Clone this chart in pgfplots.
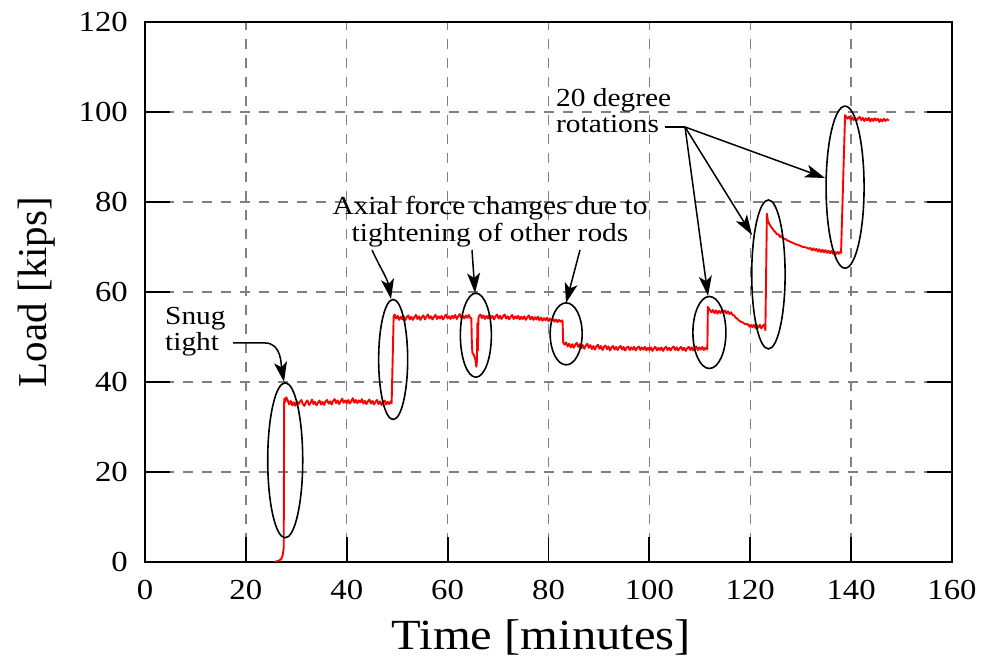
\documentclass[border=0pt]{standalone}
\usepackage{fontspec}
\setmainfont{Liberation Serif}[FakeStretch=1.13]
\newfontfamily\plainserif{Liberation Serif}
\usepackage{pgfplots}
\pgfplotsset{compat=1.18}
\usetikzlibrary{arrows.meta}

\pgfplotstableread{
x y
25.7 0
26.5 0.3
27.0 0.6
27.3 1.5
27.5 3.0
27.6 36.3
27.8 35.6
28.0 36.6
28.3 35.9
28.6 35.0
28.9 35.8
29.2 34.8
29.5 35.5
29.8 34.7
30.1 35.7
30.4 35.0
30.7 35.6
31.0 36.0
31.3 35.1
31.6 34.7
31.9 35.5
32.2 35.9
32.5 34.9
32.8 35.3
33.1 36.1
33.4 35.1
33.7 35.6
34.0 34.8
34.3 35.4
34.6 35.9
34.9 35.0
35.2 35.6
35.5 34.9
35.8 35.7
36.1 36.0
36.4 35.2
36.7 35.7
37.0 35.0
37.3 35.8
37.6 36.2
37.9 35.3
38.2 35.9
38.5 35.1
38.8 35.7
39.1 36.3
39.4 35.4
39.7 35.9
40.0 35.3
40.3 36.0
40.6 35.2
40.9 35.8
41.2 36.4
41.5 35.4
41.8 36.0
42.1 35.3
42.4 35.9
42.7 35.5
43.0 36.2
43.3 35.2
43.6 35.8
43.9 35.1
44.2 35.7
44.5 36.1
44.8 35.2
45.1 35.8
45.4 35.0
45.7 35.6
46.0 36.0
46.3 35.1
46.6 35.7
46.9 34.9
47.2 35.5
47.5 35.9
47.8 35.0
48.1 35.6
48.4 35.1
48.7 35.7
48.9 35.3
49.3 54.6
49.5 55.0
49.8 54.1
50.1 54.7
50.4 53.8
50.7 54.5
51.0 53.9
51.3 54.6
51.6 53.7
51.9 54.4
52.2 54.8
52.5 53.9
52.8 54.5
53.1 53.8
53.4 54.4
53.7 54.9
54.0 54.0
54.3 54.6
54.6 53.8
54.9 54.4
55.2 54.8
55.5 53.9
55.8 54.5
56.1 55.0
56.4 54.1
56.7 54.6
57.0 53.9
57.3 54.5
57.6 54.9
57.9 54.0
58.2 54.6
58.5 54.1
58.8 54.7
59.1 53.9
59.4 54.5
59.7 55.0
60.0 54.1
60.3 54.6
60.6 54.0
60.9 54.7
61.2 54.2
61.5 54.9
61.8 54.0
62.1 54.6
62.4 55.1
62.7 54.2
63.0 54.7
63.3 54.1
63.6 54.8
63.9 54.3
64.2 54.9
64.5 54.2
64.7 54.2
64.8 49.0
64.9 46.5
65.2 46.0
65.5 45.0
65.7 43.4
65.8 44.5
65.9 53.0
66.0 47.0
66.1 54.0
66.2 54.6
66.5 55.0
66.8 54.2
67.1 54.8
67.4 54.0
67.7 54.7
68.0 54.1
68.3 54.9
68.6 54.2
68.9 54.7
69.2 53.9
69.5 54.6
69.8 55.0
70.1 54.1
70.4 54.7
70.7 54.0
71.0 54.6
71.3 55.0
71.6 54.1
71.9 54.6
72.2 53.9
72.5 54.5
72.8 54.9
73.1 54.0
73.4 54.6
73.7 54.1
74.0 54.7
74.3 53.9
74.6 54.5
74.9 54.0
75.2 54.6
75.5 53.8
75.8 54.4
76.1 54.8
76.4 53.9
76.7 54.5
77.0 53.8
77.3 54.4
77.6 53.9
77.9 54.5
78.2 53.7
78.5 54.3
78.8 53.6
79.1 54.2
79.4 53.7
79.7 54.3
80.0 53.5
80.3 54.1
80.6 53.6
80.9 54.0
81.2 53.4
81.5 53.9
81.8 53.3
82.1 53.8
82.4 53.4
82.7 53.7
82.8 53.4
82.9 48.8
83.2 48.3
83.5 48.8
83.8 47.9
84.1 48.5
84.4 47.7
84.7 48.4
85.0 47.6
85.3 48.3
85.6 48.7
85.9 47.8
86.2 48.4
86.5 47.5
86.8 48.2
87.1 47.4
87.4 48.1
87.7 48.5
88.0 47.6
88.3 48.2
88.6 47.3
88.9 48.0
89.2 47.2
89.5 47.9
89.8 48.3
90.1 47.4
90.4 48.0
90.7 47.1
91.0 47.8
91.3 48.1
91.6 47.3
91.9 47.9
92.2 47.0
92.5 47.7
92.8 48.0
93.1 47.2
93.4 47.8
93.7 47.1
94.0 47.7
94.3 48.0
94.6 47.2
94.9 47.8
95.2 47.0
95.5 47.6
95.8 47.9
96.1 47.1
96.4 47.7
96.7 47.2
97.0 47.8
97.3 47.0
97.6 47.6
97.9 47.9
98.2 47.1
98.5 47.7
98.8 47.2
99.1 47.8
99.4 47.0
99.7 47.6
100.0 47.1
100.3 47.7
100.6 46.9
100.9 47.5
101.2 47.8
101.5 47.0
101.8 47.6
102.1 47.1
102.4 47.7
102.7 46.9
103.0 47.5
103.3 47.8
103.6 47.1
103.9 47.6
104.2 47.0
104.5 47.6
104.8 47.9
105.1 47.1
105.4 47.7
105.7 47.0
106.0 47.5
106.3 47.8
106.6 47.1
106.9 47.6
107.2 46.9
107.5 47.5
107.8 47.8
108.1 47.1
108.4 47.7
108.7 47.0
109.0 47.6
109.3 47.9
109.6 47.1
109.9 47.7
110.2 47.2
110.5 47.8
110.8 47.1
111.1 47.6
111.4 47.3
111.5 47.4
111.6 56.7
111.8 56.3
112.0 56.0
112.3 55.5
112.6 56.0
112.9 55.3
113.2 55.9
113.5 55.2
113.8 55.8
114.1 55.3
114.4 56.0
114.7 55.4
115.0 55.9
115.3 55.2
115.6 55.7
115.9 55.1
116.2 55.5
116.5 54.9
116.8 54.8
117.1 54.3
117.4 54.1
117.7 53.7
118.0 53.5
118.3 53.3
118.6 53.2
118.9 52.9
119.2 52.8
119.5 52.9
119.8 52.3
120.1 52.7
120.4 52.2
120.7 52.7
121.0 52.0
121.3 52.6
121.6 52.1
121.9 52.7
122.2 51.9
122.5 52.5
122.8 52.8
123.0 51.5
123.3 77.4
123.5 75.8
123.8 75.1
124.1 74.5
124.4 74.1
124.7 73.6
125.0 73.3
125.3 72.8
125.6 72.8
125.9 72.2
126.2 72.5
126.5 71.8
126.8 71.8
127.1 71.7
127.4 71.4
127.7 71.3
128.0 71.1
128.3 71.0
128.6 70.8
128.9 70.7
129.2 70.5
129.5 70.5
129.8 70.3
130.1 70.2
130.4 70.0
130.7 70.0
131.0 69.9
131.3 69.8
131.6 69.6
131.9 69.8
132.2 69.3
132.5 69.7
132.8 69.2
133.1 69.6
133.4 69.0
133.7 69.5
134.0 68.9
134.3 69.4
134.6 68.8
134.9 69.3
135.2 68.7
135.5 69.2
135.8 68.6
136.1 69.1
136.4 68.5
136.7 69.0
137.0 68.4
137.3 68.9
137.6 68.5
137.9 69.0
138.0 68.7
138.8 99.3
139.0 99.0
139.3 98.5
139.6 99.0
139.9 98.3
140.2 98.8
140.5 98.2
140.8 98.7
141.1 98.1
141.4 98.6
141.7 98.9
142.0 98.2
142.3 98.7
142.6 98.0
142.9 98.6
143.2 98.1
143.5 98.7
143.8 97.9
144.1 98.5
144.4 98.0
144.7 98.6
145.0 98.1
145.3 98.5
145.6 97.8
145.9 98.4
146.2 97.9
146.5 98.5
146.8 98.0
147.1 98.4
147.5 98.1
}\loaddata

\begin{document}
\begin{tikzpicture}[x=1pt,y=1pt]
\useasboundingbox (0,0) rectangle (982,660);
\begin{axis}[
  at={(145pt,98pt)}, anchor=south west,
  scale only axis, width=807pt, height=540pt,
  xmin=0, xmax=160, ymin=0, ymax=120,
  xtick={0,20,...,160}, ytick={0,20,...,120},
  tick align=inside, xtick pos=bottom, ytick pos=both,
  major tick length=25pt,
  tick style={black, line width=1.8pt},
  axis line style={line width=1.5pt, black},
  grid=major,
  major grid style={black!50, line width=1.3pt, dash pattern=on 10pt off 9pt},
  /pgf/number format/assume math mode=true,
  ticklabel style={font=\fontsize{29}{34}\selectfont},
  xticklabel style={anchor=base, yshift=-38pt, inner sep=0pt},
  yticklabel style={anchor=east, xshift=-17pt, inner sep=0pt},
  xlabel={Time [minutes]},
  ylabel={Load [kips]},
  xlabel style={font=\fontsize{43}{50}\selectfont, at={(axis description cs:0.491,-0.162)}, anchor=base, inner sep=0pt},
  ylabel style={font=\plainserif\fontsize{41}{48}\selectfont, at={(axis description cs:-0.134,0.5)}, anchor=center, inner sep=0pt},
]
\addplot[red, line width=1.9pt, line join=round, mark=none] table[x=x,y=y] {\loaddata};
\draw[line width=1.6pt] (axis cs:27.8,22.6) ellipse [x radius=17.5pt, y radius=77.5pt];
\draw[line width=1.6pt] (axis cs:49.2,45.0) ellipse [x radius=14.5pt, y radius=60pt];
\draw[line width=1.6pt] (axis cs:65.6,50.4) ellipse [x radius=15.5pt, y radius=42pt];
\draw[line width=1.6pt] (axis cs:83.5,50.7) ellipse [x radius=16pt, y radius=31pt];
\draw[line width=1.6pt] (axis cs:111.9,51.0) ellipse [x radius=16.5pt, y radius=36pt];
\draw[line width=1.6pt] (axis cs:123.6,63.9) ellipse [x radius=16.7pt, y radius=74.5pt];
\draw[line width=1.6pt] (axis cs:138.8,83.3) ellipse [x radius=19pt, y radius=81pt];
\end{axis}
\begin{scope}[every node/.style={font=\fontsize{26}{27}\selectfont, inner sep=0pt}]
\node[anchor=base west] at (165,335) {Snug};
\node[anchor=base west] at (165,309) {tight};
\node[anchor=base] at (490,445) {Axial force changes due to};
\node[anchor=base] at (490,418) {tightening of other rods};
\node[anchor=base west] at (556,553) {20 degree};
\node[anchor=base west] at (556,527) {rotations};
\end{scope}
\begin{scope}[line width=1.5pt, -{Stealth[length=20pt, width=13pt, inset=5pt]}]
\draw (233,317) -- (265,317) to[out=0, in=100] (284,278);
\draw (372,410) to[out=-65, in=100] (391,361);
\draw (472,410) -- (475,367);
\draw (580,410) -- (566,357);
\draw (685,533) -- (825,482);
\draw (685,533) -- (752,425);
\draw (685,533) -- (708,364);
\end{scope}
\draw[line width=1.5pt] (665,533) -- (685,533);
\end{tikzpicture}
\end{document}
